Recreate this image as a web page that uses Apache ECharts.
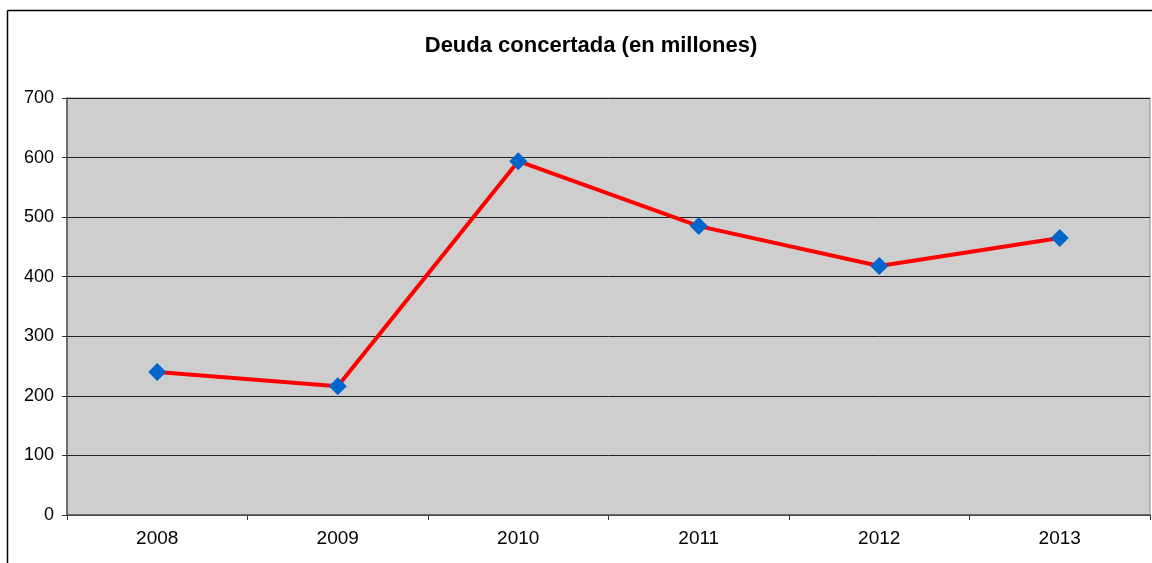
<!DOCTYPE html>
<html lang="es" style="height: 100%">
<head>
  <meta charset="utf-8">
  <title>Deuda concertada</title>
</head>
<body style="height: 100%; margin: 0; background: #fff">
  <div id="container" style="width: 1152px; height: 563px"></div>
  <script type="text/javascript" src="https://cdn.jsdelivr.net/npm/echarts@6/dist/echarts.min.js"></script>
  <script type="text/javascript">
    // datos
    const years = ['2008', '2009', '2010', '2011', '2012', '2013'];
    const deuda = [240, 216, 594, 485, 418, 465];

    var chart = echarts.init(document.getElementById('container'), null, { renderer: 'canvas' });

    var option = {
      animation: false,
      title: {
        text: 'Deuda concertada (en millones)',
        left: 586,
        textAlign: 'center',
        top: 30,
        textStyle: { fontFamily: 'Liberation Sans', fontSize: 22, fontWeight: 'bold', color: '#000' }
      },
      graphic: [
        { type: 'line', shape: { x1: 7.5, y1: 10.5, x2: 7.5, y2: 563 }, style: { stroke: '#000', lineWidth: 1.5 } },
        { type: 'line', shape: { x1: 7.5, y1: 10.5, x2: 1152, y2: 10.5 }, style: { stroke: '#000', lineWidth: 1.5 } }
      ],
      grid: {
        left: 67, right: 2, top: 98, bottom: 48,
        show: true,
        backgroundColor: '#CECECE',
        borderColor: '#8a8a8a',
        borderWidth: 1
      },
      xAxis: {
        type: 'category',
        data: years,
        boundaryGap: true,
        axisLine: { lineStyle: { color: '#555', width: 1.5 } },
        axisTick: { show: true, inside: false, length: 5, lineStyle: { color: '#333' } },
        axisLabel: { fontFamily: 'Liberation Sans', fontSize: 19, color: '#000', margin: 14 }
      },
      yAxis: {
        type: 'value',
        min: 0,
        max: 700,
        interval: 100,
        axisLine: { show: true, lineStyle: { color: '#555', width: 1.5 } },
        axisTick: { show: true, length: 5, lineStyle: { color: '#333' } },
        axisLabel: { fontFamily: 'Liberation Sans', fontSize: 18, color: '#000', margin: 13 },
        splitLine: { lineStyle: { color: '#222', width: 1 } }
      },
      series: [
        {
          type: 'line',
          data: deuda,
          symbol: 'diamond',
          symbolSize: 18,
          itemStyle: { color: '#0066CC' },
          lineStyle: { color: '#FF0000', width: 4 },
          z: 5
        }
      ]
    };

    chart.setOption(option);
  </script>
</body>
</html>
